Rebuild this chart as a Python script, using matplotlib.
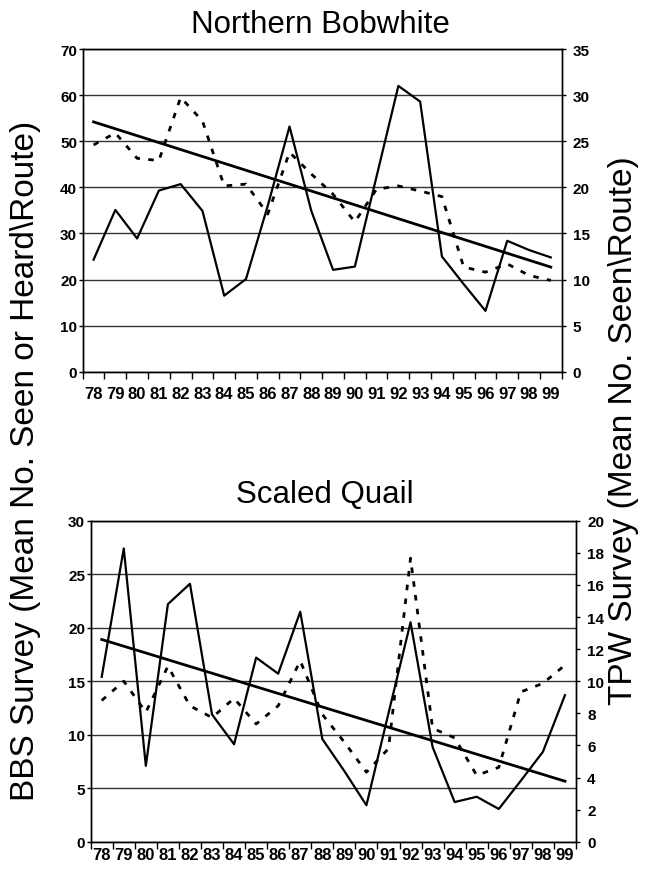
import numpy as np
import matplotlib
matplotlib.use('Agg')
import matplotlib.pyplot as plt

plt.rcParams['font.family'] = ['Liberation Sans', 'DejaVu Sans']

years = ['78', '79', '80', '81', '82', '83', '84', '85', '86', '87', '88',
         '89', '90', '91', '92', '93', '94', '95', '96', '97', '98', '99']

# Northern Bobwhite: BBS (left axis, dashed), TPW (right axis, solid)
bob_bbs = [49.2, 51.8, 46.3, 45.8, 59.5, 54.4, 40.3, 40.7, 34.2, 47.6, 42.9,
           38.5, 32.5, 39.6, 40.3, 39.2, 38.0, 22.7, 21.6, 23.4, 20.9, 19.8]
bob_tpw = [12.15, 17.55, 14.45, 19.65, 20.35, 17.45, 8.25, 10.05, 18.0, 26.6, 17.45,
           11.05, 11.4, 21.2, 31.0, 29.3, 12.5, 9.5, 6.6, 14.2, 13.2, 12.4]
bob_trend = [27.1, 11.35]

# Scaled Quail
quail_bbs = [13.2, 15.0, 12.1, 16.4, 12.7, 11.6, 13.4, 11.0, 12.7, 16.9, 11.9,
             9.3, 6.5, 8.7, 26.5, 10.6, 9.7, 6.2, 6.95, 14.0, 14.8, 16.5]
quail_tpw = [10.27, 18.27, 4.73, 14.8, 16.07, 7.93, 6.07, 11.47, 10.47, 14.33, 6.4,
             4.4, 2.27, 8.0, 13.67, 5.9, 2.47, 2.8, 2.04, 3.8, 5.6, 9.13]
quail_trend = [12.6, 3.77]


def panel(fig, rect, bbs, tpw, trend, lmax, lstep, rmax, rstep, xpad, lpad, rpad):
    x = np.arange(len(years))
    ax = fig.add_axes(rect)
    ax.plot(x, bbs, color='black', lw=2, dashes=(2, 3))
    ax.set_xlim(-0.5, len(years) - 0.5)
    ax.set_ylim(0, lmax)
    ax.set_yticks(np.arange(0, lmax + 1, lstep))
    ax.set_xticks(x)
    ax.set_xticklabels(years, fontsize=12, fontweight='bold')
    ax.set_xticks(np.arange(-0.5, len(years)), minor=True)
    ax.tick_params(axis='x', which='major', length=0, pad=xpad)
    ax.tick_params(axis='x', which='minor', length=5, width=1)
    ax.tick_params(axis='y', length=3, width=1, pad=lpad, labelsize=11)
    for t in ax.get_yticklabels():
        t.set_fontweight('bold')
    ax.yaxis.grid(True, color='#333333', lw=1)
    ax.set_axisbelow(True)
    for s in ax.spines.values():
        s.set_linewidth(1)

    ax2 = ax.twinx()
    ax2.plot(x, tpw, color='black', lw=1.6)
    ax2.plot([x[0], x[-1]], trend, color='black', lw=2)
    ax2.set_ylim(0, rmax)
    ax2.set_yticks(np.arange(0, rmax + 1, rstep))
    ax2.tick_params(axis='y', length=3, width=1, pad=rpad, labelsize=11)
    for t in ax2.get_yticklabels():
        t.set_fontweight('bold')
    for s in ax2.spines.values():
        s.set_linewidth(1)
    return ax, ax2


fig = plt.figure(figsize=(6.45, 8.78), dpi=100)

panel(fig, [0.1282, 0.5755, 0.7426, 0.3675], bob_bbs, bob_tpw, bob_trend,
      70, 10, 35, 5, 10, 1, 5)
panel(fig, [0.1406, 0.0402, 0.7524, 0.3656], quail_bbs, quail_tpw, quail_trend,
      30, 5, 20, 2, 3.5, 1, 5)

fig.text(320 / 645, 1 - 33 / 878, 'Northern Bobwhite', ha='center', va='baseline', fontsize=22.5)
fig.text(325 / 645, 1 - 503 / 878, 'Scaled Quail', ha='center', va='baseline', fontsize=22.5)

fig.text(0.04, 0.475, 'BBS Survey (Mean No. Seen or Heard\\Route)', rotation=90,
         ha='center', va='center', fontsize=24)
fig.text(0.967, 0.509, 'TPW Survey (Mean No. Seen\\Route)', rotation=90,
         ha='center', va='center', fontsize=24)

fig.savefig('out.png', dpi=100)
